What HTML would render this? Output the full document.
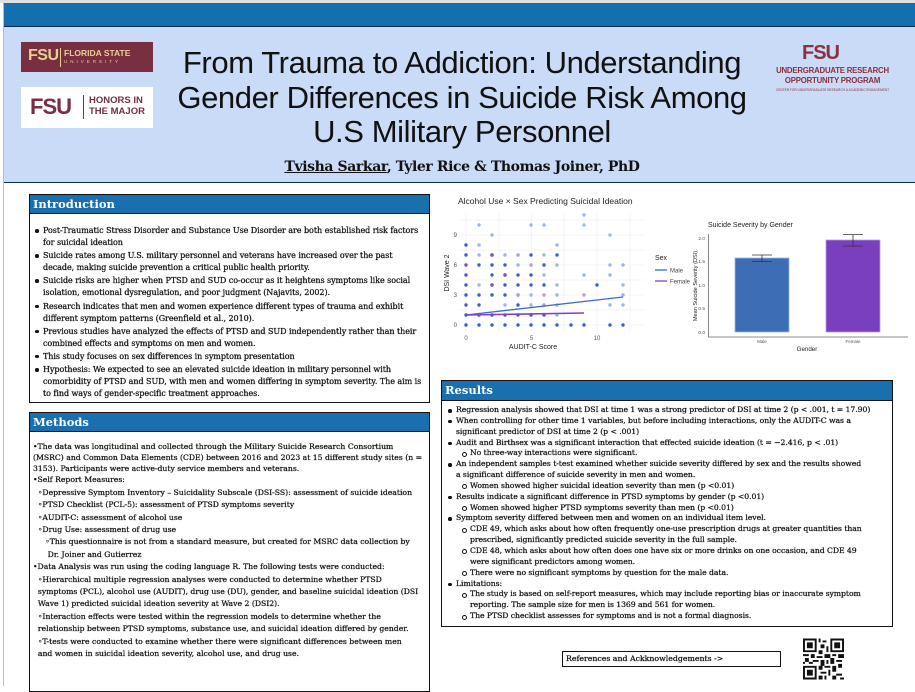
<!DOCTYPE html>
<html><head><meta charset="utf-8">
<style>
*{margin:0;padding:0;box-sizing:border-box}
body{width:915px;height:686px;background:#fff;position:relative;overflow:hidden;font-family:"DejaVu Serif","Liberation Serif",serif;color:#111}
.abs{position:absolute}
.box{position:absolute;border:1.3px solid #111;background:#fff}
.hd{background:#1a6fae;color:#fff;font-family:"DejaVu Serif",serif;font-weight:bold;font-size:11.5px;padding-left:3px;border-bottom:1.3px solid #111}
.t{position:absolute;white-space:nowrap;font-size:7.6px;letter-spacing:-0.05px}
.b::before{content:"";position:absolute;left:-8px;top:4px;width:3.5px;height:3.5px;border-radius:50%;background:#111}
.s::before{content:"";position:absolute;left:-8px;top:3.5px;width:3px;height:3px;border-radius:50%;border:0.8px solid #111}
.dk{-webkit-text-stroke:0.25px #111}
</style></head><body>
<div class="abs" style="left:0;top:0;width:915px;height:3px;background:#e0e0e0"></div>
<div class="abs" style="left:3px;top:3px;width:912px;height:24px;background:#136fae;border-bottom:1px solid #0b2a4a"></div>
<div class="abs" style="left:3px;top:27px;width:912px;height:156px;background:#c9dbf6;border-bottom:1.5px solid #0b2a4a"></div>
<div class="abs" style="left:3px;top:3px;width:1px;height:683px;background:#bbb"></div>
<!-- logos -->
<div class="abs" style="left:21px;top:42px;width:132px;height:30px;background:#782f40"></div>
<div class="abs" style="left:28px;top:47px;color:#e8cf95;font:bold 16px 'Liberation Sans',sans-serif;letter-spacing:-0.5px">FSU</div>
<div class="abs" style="left:60px;top:48px;width:1px;height:19px;background:#e8cf95"></div>
<div class="abs" style="left:64px;top:48px;color:#e8cf95;font:bold 8.5px 'Liberation Sans',sans-serif">FLORIDA STATE</div>
<div class="abs" style="left:64px;top:59px;color:#e8cf95;font:4.5px 'Liberation Sans',sans-serif;letter-spacing:3px">UNIVERSITY</div>
<div class="abs" style="left:21px;top:87px;width:132px;height:41px;background:#fff"></div>
<div class="abs" style="left:30px;top:94px;color:#782f40;font:bold 22px 'Liberation Sans',sans-serif;letter-spacing:-1px">FSU</div>
<div class="abs" style="left:83px;top:95px;width:1px;height:24px;background:#782f40"></div>
<div class="abs" style="left:89px;top:96px;color:#782f40;font:bold 9.5px/10.5px 'Liberation Sans',sans-serif">HONORS IN<br>THE MAJOR</div>
<div class="abs" style="left:802px;top:42px;color:#8c2f3e;font:bold 20px 'Liberation Sans',sans-serif;letter-spacing:-1px">FSU</div>
<div class="abs" style="left:750px;top:66px;width:165px;text-align:center;color:#8c2f3e;font:bold 7.8px/10px 'Liberation Sans',sans-serif;white-space:nowrap;letter-spacing:-0.2px">UNDERGRADUATE RESEARCH<br>OPPORTUNITY PROGRAM</div>
<div class="abs" style="left:750px;top:88px;width:165px;text-align:center;color:#8c2f3e;font:3.2px 'Liberation Sans',sans-serif;white-space:nowrap">CENTER FOR UNDERGRADUATE RESEARCH &amp; ACADEMIC ENGAGEMENT</div>
<!-- title -->
<div class="abs" style="left:112px;top:46px;width:700px;text-align:center;font:31px/34.5px 'Liberation Sans',sans-serif;color:#111;letter-spacing:-0.4px;white-space:nowrap">From Trauma to Addiction: Understanding<br>Gender Differences in Suicide Risk Among<br>U.S Military Personnel</div>
<div class="abs" style="left:162px;top:159px;width:600px;text-align:center;font:bold 14px 'DejaVu Serif',serif;color:#111;letter-spacing:-0.4px"><u>Tvisha Sarkar</u>, Tyler Rice &amp; Thomas Joiner, PhD</div>

<!-- Intro -->
<div class="box" style="left:29px;top:194px;width:401px;height:209px"><div class="hd" style="height:19px;line-height:18px">Introduction</div></div>
<div class="abs dk" style="left:43px;top:225px;line-height:12.1px">
<div class="t b" style="position:relative;font-size:8px">Post-Traumatic Stress Disorder and Substance Use Disorder are both established risk factors<br>for suicidal ideation</div>
<div class="t b" style="position:relative;margin-top:1px;font-size:8px">Suicide rates among U.S. military personnel and veterans have increased over the past<br>decade, making suicide prevention a critical public health priority.</div>
<div class="t b" style="position:relative;margin-top:1px;font-size:8px">Suicide risks are higher when PTSD and SUD co-occur as it heightens symptoms like social<br>isolation, emotional dysregulation, and poor judgment (Najavits, 2002).</div>
<div class="t b" style="position:relative;margin-top:1px;font-size:8px">Research indicates that men and women experience different types of trauma and exhibit<br>different symptom patterns (Greenfield et al., 2010).</div>
<div class="t b" style="position:relative;margin-top:1px;font-size:8px">Previous studies have analyzed the effects of PTSD and SUD independently rather than their<br>combined effects and symptoms on men and women.</div>
<div class="t b" style="position:relative;margin-top:1px;font-size:8px">This study focuses on sex differences in symptom presentation</div>
<div class="t b" style="position:relative;margin-top:1px;font-size:8px">Hypothesis: We expected to see an elevated suicide ideation in military personnel with<br>comorbidity of  PTSD and SUD, with men and women differing in symptom severity. The aim is<br>to find ways of  gender-specific treatment approaches.</div>
</div>

<!-- Methods -->
<div class="box" style="left:29px;top:412px;width:401px;height:280px"><div class="hd" style="height:19px;line-height:18px">Methods</div></div>
<div class="abs dk" style="left:33px;top:442px;font-size:7.7px;white-space:nowrap">
<div style="line-height:10.8px">•The data was longitudinal and collected through the Military Suicide Research Consortium<br>(MSRC) and  Common Data Elements (CDE) between 2016 and 2023 at 15 different study sites (n =<br>3153).  Participants were active-duty service members and veterans.</div>
<div style="line-height:12.4px">•Self Report Measures:<br>
&nbsp;&nbsp;◦Depressive Symptom Inventory – Suicidality Subscale (DSI-SS): assessment of suicide ideation<br>
&nbsp;&nbsp;◦PTSD Checklist (PCL-5): assessment of PTSD symptoms severity<br>
&nbsp;&nbsp;◦AUDIT-C: assessment of alcohol use<br>
&nbsp;&nbsp;◦Drug Use: assessment of drug use<br>
&nbsp;&nbsp;&nbsp;&nbsp;&nbsp;◦This questionnaire  is not from a standard measure, but created for MSRC data collection by<br>
&nbsp;&nbsp;&nbsp;&nbsp;&nbsp;&nbsp;Dr. Joiner and Gutierrez<br>
•Data Analysis was run using the coding language R. The following tests were conducted:<br>
&nbsp;&nbsp;◦Hierarchical multiple regression analyses were conducted to determine whether PTSD<br>
&nbsp;&nbsp;symptoms (PCL), alcohol use (AUDIT), drug use (DU), gender, and baseline suicidal ideation (DSI<br>
&nbsp;&nbsp;Wave 1) predicted suicidal ideation severity at Wave 2 (DSI2).<br>
&nbsp;&nbsp;◦Interaction effects were tested within the regression models to determine whether the<br>
&nbsp;&nbsp;relationship between PTSD symptoms, substance use, and suicidal ideation differed by gender.<br>
&nbsp;&nbsp;◦T-tests were conducted to examine whether there were significant differences between men<br>
&nbsp;&nbsp;and women in suicidal ideation severity, alcohol use, and drug use.</div>
</div>

<!-- Results -->
<div class="box" style="left:441px;top:380px;width:452px;height:247px"><div class="hd" style="height:20px;line-height:19px">Results</div></div>
<div class="abs dk" style="left:456px;top:405px;line-height:10.85px">
<div class="t b" style="position:relative;font-size:7.7px">Regression analysis showed that DSI at time 1 was a strong predictor of DSI at time 2 (p &lt; .001, t = 17.90)</div>
<div class="t b" style="position:relative;font-size:7.7px">When controlling for other time 1 variables, but before including interactions, only the AUDIT-C was a<br>significant predictor of DSI at time 2 (p &lt; .001)</div>
<div class="t b" style="position:relative;font-size:7.7px">Audit and Birthsex was a significant interaction that effected suicide ideation (t = −2.416, p &lt; .01)</div>
<div class="t s" style="position:relative;left:14px;font-size:7.7px">No three-way interactions were significant.</div>
<div class="t b" style="position:relative;font-size:7.7px">An independent samples t-test examined whether suicide severity differed by sex and the results showed<br>a significant difference of suicide severity in men and women.</div>
<div class="t s" style="position:relative;left:14px;font-size:7.7px">Women showed higher suicidal ideation severity than men (p &lt;0.01)</div>
<div class="t b" style="position:relative;font-size:7.7px">Results indicate a significant difference in PTSD symptoms by gender (p &lt;0.01)</div>
<div class="t s" style="position:relative;left:14px;font-size:7.7px">Women showed higher PTSD symptoms  severity than men (p &lt;0.01)</div>
<div class="t b" style="position:relative;font-size:7.7px">Symptom severity differed between men and women on an individual item level.</div>
<div class="t s" style="position:relative;left:14px;font-size:7.7px">CDE 49, which asks about how often frequently one-use prescription drugs at  greater quantities than<br>prescribed, significantly predicted suicide severity in the full sample.</div>
<div class="t s" style="position:relative;left:14px;font-size:7.7px">CDE 48, which asks about how often does one  have six or more drinks on one occasion, and CDE 49<br>were significant predictors among women.</div>
<div class="t s" style="position:relative;left:14px;font-size:7.7px">There were no significant symptoms by question for the male data.</div>
<div class="t b" style="position:relative;font-size:7.7px">Limitations:</div>
<div class="t s" style="position:relative;left:14px;font-size:7.7px">The study is based on self-report measures, which may include reporting bias or inaccurate symptom<br>reporting. The sample size for men is 1369 and  561 for women.</div>
<div class="t s" style="position:relative;left:14px;font-size:7.7px">The PTSD checklist assesses for symptoms and is not a formal diagnosis.</div>
</div>

<div class="abs dk" style="left:562px;top:651px;width:219px;height:16px;border:1px solid #111;font-size:7.8px;line-height:14px;padding-left:3px;white-space:nowrap">References and Ackknowledgements -&gt;</div>

<!-- QR -->
<svg class="abs" style="left:803px;top:638px" width="41" height="42" viewBox="0 0 21 21">
<rect width="21" height="21" fill="#fff"/>
<g fill="#111"><path d="M0 0h7v7h-7zM14 0h7v7h-7zM0 14h7v7h-7z"/></g>
<g fill="#fff"><path d="M1 1h5v5h-5zM15 1h5v5h-5zM1 15h5v5h-5z"/></g>
<g fill="#111"><path d="M2 2h3v3h-3zM16 2h3v3h-3zM2 16h3v3h-3z"/>
<path d="M8 0h1v2h-1zM10 1h2v1h-2zM9 3h2v2h-2zM12 4h1v3h-1zM8 6h2v2h-2zM0 8h3v1h-3zM4 8h2v2h-2zM7 9h3v1h-3zM11 8h3v2h-3zM15 8h2v1h-2zM18 8h3v2h-3zM1 10h2v2h-2zM5 11h3v1h-3zM9 11h2v3h-2zM12 11h1v2h-1zM14 10h2v3h-2zM17 11h3v1h-3zM0 12h1v1h-1zM3 12h2v1h-2zM8 14h2v2h-2zM11 14h3v1h-3zM15 14h2v3h-2zM18 13h2v2h-2zM9 17h3v1h-3zM13 16h1v3h-1zM17 18h3v1h-3zM8 19h2v2h-2zM11 19h1v2h-1zM15 19h2v2h-2zM19 20h2v1h-2z"/></g>
</svg>

<!-- Scatter chart -->
<svg class="abs" style="left:440px;top:190px" width="260" height="170" viewBox="440 190 260 170" font-family="Liberation Sans, sans-serif">
<text x="458" y="204" font-size="8.5" fill="#222">Alcohol Use × Sex Predicting Suicidal Ideation</text>
<g stroke="#ececec" stroke-width="0.6">
<line x1="459" y1="325" x2="645" y2="325"/><line x1="459" y1="295" x2="645" y2="295"/><line x1="459" y1="265" x2="645" y2="265"/><line x1="459" y1="235" x2="645" y2="235"/>
<line x1="459" y1="310" x2="645" y2="310"/><line x1="459" y1="280" x2="645" y2="280"/><line x1="459" y1="250" x2="645" y2="250"/><line x1="459" y1="220" x2="645" y2="220"/>
<line x1="466" y1="213" x2="466" y2="332"/><line x1="531.5" y1="213" x2="531.5" y2="332"/><line x1="597" y1="213" x2="597" y2="332"/>
<line x1="499" y1="213" x2="499" y2="332"/><line x1="564" y1="213" x2="564" y2="332"/><line x1="630" y1="213" x2="630" y2="332"/>
</g>
<g font-size="6" fill="#555" text-anchor="end"><text x="457" y="327">0</text><text x="457" y="297">3</text><text x="457" y="267">6</text><text x="457" y="237">9</text></g>
<g font-size="6" fill="#555" text-anchor="middle"><text x="466" y="340">0</text><text x="531.5" y="340">5</text><text x="597" y="340">10</text></g>
<text x="533" y="349" font-size="7" fill="#222" text-anchor="middle">AUDIT-C Score</text>
<text transform="translate(449,273) rotate(-90)" font-size="7" fill="#222" text-anchor="middle">DSI Wave 2</text>
<g fill="#3a5fcd">
<circle cx="466" cy="325" r="1.7"/><circle cx="479" cy="325" r="1.7"/><circle cx="492" cy="325" r="1.7"/><circle cx="505" cy="325" r="1.7"/><circle cx="518" cy="325" r="1.7"/><circle cx="531" cy="325" r="1.7"/><circle cx="544" cy="325" r="1.7"/><circle cx="557" cy="325" r="1.7"/><circle cx="571" cy="325" r="1.7"/><circle cx="584" cy="325" r="1.7"/><circle cx="610" cy="325" r="1.7"/><circle cx="623" cy="325" r="1.7"/>
<circle cx="466" cy="315" r="1.7"/><circle cx="479" cy="315" r="1.7"/><circle cx="492" cy="315" r="1.7"/><circle cx="505" cy="315" r="1.7"/><circle cx="518" cy="315" r="1.7"/><circle cx="531" cy="315" r="1.7"/><circle cx="544" cy="315" r="1.7"/>
<circle cx="466" cy="305" r="1.7"/><circle cx="479" cy="305" r="1.7"/><circle cx="518" cy="305" r="1.7"/>
<circle cx="466" cy="295" r="1.7"/><circle cx="479" cy="295" r="1.7"/><circle cx="492" cy="295" r="1.7"/><circle cx="505" cy="295" r="1.7"/><circle cx="518" cy="295" r="1.7"/>
<circle cx="466" cy="285" r="1.7"/><circle cx="492" cy="285" r="1.7"/><circle cx="505" cy="285" r="1.7"/><circle cx="518" cy="285" r="1.7"/><circle cx="531" cy="285" r="1.7"/><circle cx="544" cy="285" r="1.7"/><circle cx="597" cy="285" r="1.7"/>
<circle cx="466" cy="275" r="1.7"/><circle cx="492" cy="275" r="1.7"/><circle cx="505" cy="275" r="1.7"/><circle cx="518" cy="275" r="1.7"/><circle cx="531" cy="275" r="1.7"/>
<circle cx="479" cy="265" r="1.7"/><circle cx="492" cy="265" r="1.7"/><circle cx="505" cy="265" r="1.7"/><circle cx="544" cy="265" r="1.7"/>
<circle cx="466" cy="255" r="1.7"/><circle cx="492" cy="255" r="1.7"/><circle cx="531" cy="255" r="1.7"/><circle cx="557" cy="255" r="1.7"/>
<circle cx="466" cy="245" r="1.7"/>
</g>
<g fill="#9db6ea">
<circle cx="531" cy="305" r="1.7"/><circle cx="544" cy="305" r="1.7"/><circle cx="557" cy="305" r="1.7"/><circle cx="610" cy="305" r="1.7"/><circle cx="623" cy="305" r="1.7"/><circle cx="505" cy="305" r="1.7"/>
<circle cx="531" cy="295" r="1.7"/><circle cx="557" cy="295" r="1.7"/><circle cx="623" cy="295" r="1.7"/>
<circle cx="479" cy="285" r="1.7"/><circle cx="557" cy="285" r="1.7"/><circle cx="623" cy="285" r="1.7"/>
<circle cx="544" cy="275" r="1.7"/><circle cx="584" cy="275" r="1.7"/><circle cx="610" cy="275" r="1.7"/>
<circle cx="518" cy="265" r="1.7"/><circle cx="531" cy="265" r="1.7"/><circle cx="557" cy="265" r="1.7"/><circle cx="610" cy="265" r="1.7"/><circle cx="623" cy="265" r="1.7"/>
<circle cx="479" cy="255" r="1.7"/><circle cx="505" cy="255" r="1.7"/><circle cx="518" cy="255" r="1.7"/><circle cx="544" cy="255" r="1.7"/>
<circle cx="479" cy="245" r="1.7"/><circle cx="557" cy="245" r="1.7"/>
<circle cx="492" cy="235" r="1.7"/><circle cx="610" cy="235" r="1.7"/>
<circle cx="479" cy="225" r="1.7"/><circle cx="531" cy="225" r="1.7"/><circle cx="544" cy="225" r="1.7"/><circle cx="584" cy="225" r="1.7"/>
<circle cx="584" cy="215" r="1.7"/><circle cx="557" cy="315" r="1.7"/>
</g>
<g fill="#7b4fd1"><circle cx="492" cy="255" r="1.7"/><circle cx="466" cy="265" r="1.7"/><circle cx="492" cy="285" r="1.7"/><circle cx="505" cy="275" r="1.7"/><circle cx="479" cy="315" r="1.7"/></g>
<g fill="#b89ce6"><circle cx="518" cy="255" r="1.7"/><circle cx="531" cy="265" r="1.7"/><circle cx="518" cy="295" r="1.7"/><circle cx="544" cy="295" r="1.7"/><circle cx="584" cy="295" r="1.7"/><circle cx="544" cy="305" r="1.7"/></g>
<line x1="466" y1="315" x2="623" y2="297" stroke="#3a6fc4" stroke-width="1.3"/>
<line x1="466" y1="315" x2="584" y2="313" stroke="#7d45c9" stroke-width="1.6"/>
<text x="655" y="260" font-size="7" fill="#222">Sex</text>
<line x1="655" y1="270" x2="667" y2="270" stroke="#3a6fc4" stroke-width="1.3"/><text x="670" y="272.5" font-size="6" fill="#444">Male</text>
<line x1="655" y1="281" x2="667" y2="281" stroke="#7d45c9" stroke-width="1.3"/><text x="670" y="283.5" font-size="6" fill="#444">Female</text>
</svg>

<!-- Bar chart -->
<svg class="abs" style="left:690px;top:210px" width="225" height="145" viewBox="690 210 225 145" font-family="Liberation Sans, sans-serif">
<text x="708" y="227" font-size="7" fill="#222">Suicide Severity by Gender</text>
<line x1="708.5" y1="234" x2="708.5" y2="337" stroke="#666" stroke-width="0.8"/>
<line x1="708" y1="337" x2="908" y2="337" stroke="#666" stroke-width="0.8"/>
<g font-size="4.8" fill="#555" text-anchor="end"><text x="705" y="334">0.0</text><text x="705" y="310">0.5</text><text x="705" y="287">1.0</text><text x="705" y="263">1.5</text><text x="705" y="240">2.0</text></g>
<rect x="735" y="258" width="54" height="74" fill="#3d6db5" stroke="#9cb8e6" stroke-width="0.8"/>
<rect x="826" y="240" width="54" height="92" fill="#7a3fbf" stroke="#b89ce6" stroke-width="0.8"/>
<g stroke="#333" stroke-width="0.8"><line x1="762" y1="255" x2="762" y2="261.5"/><line x1="752" y1="255" x2="772" y2="255"/><line x1="752" y1="261.5" x2="772" y2="261.5"/>
<line x1="853" y1="234.5" x2="853" y2="246"/><line x1="843" y1="234.5" x2="863" y2="234.5"/><line x1="843" y1="246" x2="863" y2="246"/></g>
<g font-size="4.5" fill="#555" text-anchor="middle"><text x="762" y="343">Male</text><text x="853" y="343">Female</text></g>
<text x="807" y="351" font-size="6.2" fill="#222" text-anchor="middle">Gender</text>
<text transform="translate(697,286) rotate(-90)" font-size="5.6" fill="#222" text-anchor="middle">Mean Suicide Severity (DSI)</text>
</svg>
</body></html>
